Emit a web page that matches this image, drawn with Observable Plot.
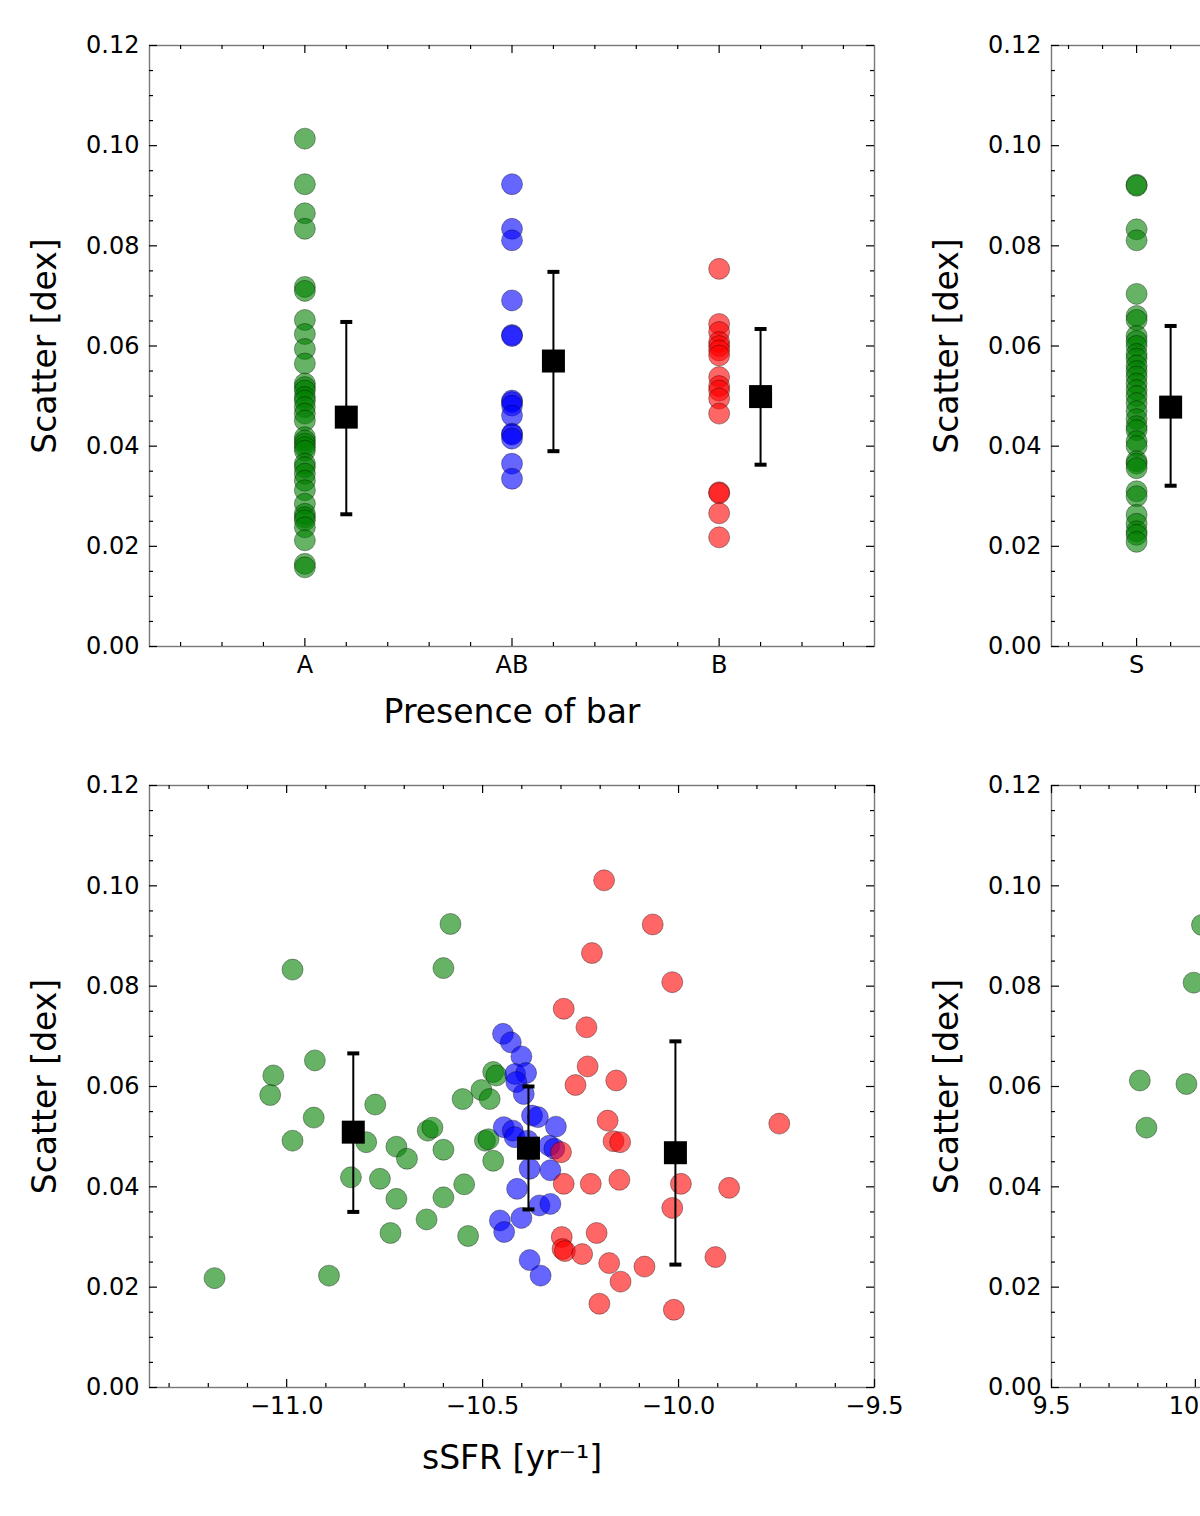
<!DOCTYPE html>
<html>
<head>
<meta charset="utf-8">
<script src="https://cdn.jsdelivr.net/npm/d3@7"></script>
<script src="https://cdn.jsdelivr.net/npm/@observablehq/plot@0.6"></script>
<style>
  body { margin: 0; background: white; }
  #fig { position: relative; width: 1200px; height: 1516px; overflow: hidden; background: white; }
  #fig > div { position: absolute; width: 902px; }
  #fig svg { max-width: none; }
</style>
</head>
<body>
<div id="fig">
  <div id="p1" style="left:0px;top:0px"></div>
  <div id="p2" style="left:900px;top:0px"></div>
  <div id="p3" style="left:0px;top:740px"></div>
  <div id="p4" style="left:900px;top:740px"></div>
</div>
<script>
// y axis shared by all four panels
const yTicks = [0, 0.02, 0.04, 0.06, 0.08, 0.10, 0.12];

// panel 1: presence of bar
const barCats = ["A", "AB", "B"];
const barA = [0.1014, 0.0923, 0.0865, 0.0834, 0.0718, 0.0710, 0.0652, 0.0624, 0.0594, 0.0565,
  0.0525, 0.0518, 0.0511, 0.0498, 0.0491, 0.0478, 0.0465, 0.0451, 0.0418, 0.0411, 0.0405,
  0.0398, 0.0391, 0.0365, 0.0358, 0.0345, 0.0331, 0.0312, 0.0285, 0.0265, 0.0258, 0.0252,
  0.0238, 0.0212, 0.0165, 0.0158];
const barAB = [0.0923, 0.0834, 0.0811, 0.0691, 0.0622, 0.0620, 0.0491, 0.0488, 0.0481, 0.0461,
  0.0425, 0.0423, 0.0415, 0.0365, 0.0335];
const barB = [0.0754, 0.0644, 0.0628, 0.0608, 0.0600, 0.0591, 0.0581, 0.0538, 0.0520, 0.0511,
  0.0495, 0.0465, 0.0308, 0.0306, 0.0266, 0.0218];
const barMean = [0.0458, 0.0570, 0.0499];
const barLo = [0.0264, 0.0390, 0.0363];
const barHi = [0.0648, 0.0748, 0.0634];

// panel 2: morphology (only S visible)
const morphCats = ["S"];
const morphS = [0.0922, 0.0920, 0.0833, 0.0811, 0.0704, 0.0660, 0.0652, 0.0620, 0.0610, 0.0600,
  0.0584, 0.0575, 0.0561, 0.0550, 0.0539, 0.0525, 0.0512, 0.0500, 0.0486, 0.0470, 0.0454,
  0.0440, 0.0432, 0.0410, 0.0400, 0.0370, 0.0365, 0.0356, 0.0310, 0.0300, 0.0263, 0.0245,
  0.0230, 0.0223, 0.0209];
const morphMean = [0.0478];
const morphLo = [0.0321];
const morphHi = [0.0640];

// panel 3: sSFR
const ssfrGreen = [[-11.184, 0.0218], [-10.985, 0.0833], [-10.582, 0.0924], [-10.600, 0.0836],
  [-10.928, 0.0652], [-11.034, 0.0622], [-11.042, 0.0583], [-10.931, 0.0538], [-10.985, 0.0492],
  [-10.774, 0.0564], [-10.797, 0.0489], [-10.836, 0.0419], [-10.762, 0.0416], [-10.720, 0.0480],
  [-10.693, 0.0456], [-10.720, 0.0376], [-10.735, 0.0308], [-10.643, 0.0335], [-10.600, 0.0379],
  [-10.547, 0.0405], [-10.537, 0.0302], [-10.892, 0.0223], [-10.640, 0.0512], [-10.628, 0.0518],
  [-10.600, 0.0474], [-10.551, 0.0575], [-10.503, 0.0593], [-10.482, 0.0575], [-10.473, 0.0629],
  [-10.465, 0.0622], [-10.494, 0.0492], [-10.485, 0.0495], [-10.473, 0.0452]];
const ssfrBlue = [[-10.448, 0.0705], [-10.428, 0.0688], [-10.401, 0.0660], [-10.417, 0.0625],
  [-10.389, 0.0627], [-10.414, 0.0609], [-10.395, 0.0585], [-10.374, 0.0542], [-10.359, 0.0539],
  [-10.313, 0.0520], [-10.446, 0.0519], [-10.423, 0.0512], [-10.418, 0.0499], [-10.385, 0.0492],
  [-10.330, 0.0482], [-10.317, 0.0476], [-10.380, 0.0436], [-10.327, 0.0433], [-10.412, 0.0396],
  [-10.355, 0.0363], [-10.327, 0.0366], [-10.456, 0.0333], [-10.445, 0.0310], [-10.401, 0.0338],
  [-10.380, 0.0254], [-10.352, 0.0223]];
const ssfrRed = [[-10.190, 0.1011], [-10.066, 0.0923], [-10.221, 0.0866], [-10.016, 0.0808],
  [-10.293, 0.0755], [-10.235, 0.0718], [-10.232, 0.0640], [-10.263, 0.0603], [-10.159, 0.0612],
  [-10.181, 0.0532], [-10.166, 0.0491], [-10.149, 0.0489], [-10.300, 0.0469], [-9.743, 0.0526],
  [-10.293, 0.0406], [-10.224, 0.0406], [-10.151, 0.0414], [-9.994, 0.0406], [-9.871, 0.0398],
  [-10.016, 0.0358], [-10.298, 0.0300], [-10.209, 0.0308], [-10.296, 0.0276], [-10.290, 0.0272],
  [-10.246, 0.0266], [-10.177, 0.0248], [-10.087, 0.0241], [-9.906, 0.0260], [-10.148, 0.0211],
  [-10.202, 0.0167], [-10.012, 0.0155]];
const ssfrErrX = [-10.830, -10.383, -10.008];
const ssfrMean = [0.0509, 0.0477, 0.0468];
const ssfrLo = [0.0350, 0.0355, 0.0245];
const ssfrHi = [0.0666, 0.0600, 0.0690];

// panel 4: stellar mass (left edge only)
const massGreen = [[9.807, 0.0612], [9.830, 0.0518], [9.969, 0.0605], [9.994, 0.0807], [10.023, 0.0922]];
const massLabels = [9.5, 10.0];

const colors = {g: "#008000", b: "#0000ff", r: "#ff0000"};
const squareSym = {draw(ctx) { ctx.rect(-11.5, -11.5, 23, 23); }};
const capSym = {draw(ctx) { ctx.rect(-6, -2, 12, 4); }};

function dots(data, color) {
  return Plot.dot(data, {x: "x", y: "y", r: 10.5, fill: color, fillOpacity: 0.6,
    stroke: "black", strokeOpacity: 0.35, strokeWidth: 1});
}

function errBars(data) {
  return [
    Plot.ruleX(data, {x: "x", y1: "lo", y2: "hi", stroke: "black", strokeWidth: 2}),
    Plot.dot(data, {x: "x", y: "lo", symbol: capSym, fill: "black"}),
    Plot.dot(data, {x: "x", y: "hi", symbol: capSym, fill: "black"}),
    Plot.dot(data, {x: "x", y: "m", symbol: squareSym, fill: "black"})
  ];
}

function panel(el, o) {
  const ML = o.ml, MT = 45, FW = 725, FH = o.fh, MR = 902 - ML - FW, MB = 100;
  const W = ML + FW + MR, H = MT + FH + MB;
  const yMinor = d3.range(0, 0.1201, 0.005).filter(v => !yTicks.some(t => Math.abs(t - v) < 1e-9));
  const xMinor = o.xMinor.filter(v => !o.xMajor.some(t => Math.abs(t - v) < 1e-9));
  const tick = {stroke: "black", strokeWidth: 1.2};
  const chart = Plot.plot({
    width: W, height: H,
    marginLeft: ML, marginRight: MR, marginTop: MT, marginBottom: MB,
    style: {fontFamily: "DejaVu Sans", color: "black", background: "transparent", overflow: "visible", maxWidth: "none"},
    x: {domain: o.xDomain},
    y: {domain: [0, 0.12]},
    marks: [
      ...o.marks,
      Plot.frame({stroke: "#777", strokeWidth: 1.4}),
      // inward ticks on all four sides
      Plot.tickY(yTicks, {y: d => d, insetRight: FW - 8, ...tick}),
      Plot.tickY(yTicks, {y: d => d, insetLeft: FW - 8, ...tick}),
      Plot.tickY(yMinor, {y: d => d, insetRight: FW - 4, ...tick}),
      Plot.tickY(yMinor, {y: d => d, insetLeft: FW - 4, ...tick}),
      Plot.tickX(o.xMajor, {x: d => d, insetTop: FH - 8, ...tick}),
      Plot.tickX(o.xMajor, {x: d => d, insetBottom: FH - 8, ...tick}),
      Plot.tickX(xMinor, {x: d => d, insetTop: FH - 4, ...tick}),
      Plot.tickX(xMinor, {x: d => d, insetBottom: FH - 4, ...tick}),
      Plot.axisY(yTicks, {tickSize: 0, tickPadding: 10, fontSize: 24, tickFormat: d => d.toFixed(2), label: null}),
      Plot.axisX(o.xLabels ?? o.xMajor, {tickSize: 0, tickPadding: 9, fontSize: 24, tickFormat: o.xFormat, label: null}),
      Plot.text(["Scatter [dex]"], {frameAnchor: "left", dx: -104, rotate: -90, fontSize: 33,
        lineAnchor: "middle", textAnchor: "middle"}),
      o.xLabel ? Plot.text([o.xLabel], {frameAnchor: "bottom", dy: o.xLabelDy, fontSize: 33,
        lineAnchor: "middle", textAnchor: "middle"}) : null
    ]
  });
  document.getElementById(el).append(chart);
}

const catRows = (vals, pos, color) => vals.map(v => ({x: pos, y: v, c: color}));
const errRows = (xs, m, lo, hi) => m.map((v, i) => ({x: xs[i], m: v, lo: lo[i], hi: hi[i]}));
const pairRows = arr => arr.map(([x, y]) => ({x, y}));

// top left
panel("p1", {
  ml: 149, fh: 601,
  xDomain: [0.25, 3.75],
  xMajor: [1, 2, 3],
  xMinor: d3.range(0.4, 3.7, 0.2).map(v => +v.toFixed(1)),
  xFormat: d => barCats[d - 1],
  xLabel: "Presence of bar", xLabelDy: 66,
  marks: [
    dots(catRows(barA, 1), colors.g),
    dots(catRows(barAB, 2), colors.b),
    dots(catRows(barB, 3), colors.r),
    ...errBars(errRows([1.2, 2.2, 3.2], barMean, barLo, barHi))
  ]
});

// top right (cut by the window edge)
panel("p2", {
  ml: 151, fh: 601,
  xDomain: [0.5, 4.76],
  xMajor: [1, 2, 3, 4],
  xLabels: [1],
  xMinor: d3.range(0.6, 4.7, 0.2).map(v => +v.toFixed(1)),
  xFormat: d => morphCats[d - 1] ?? "",
  xLabel: null,
  marks: [
    dots(catRows(morphS, 1), colors.g),
    ...errBars(errRows([1.2], morphMean, morphLo, morphHi))
  ]
});

// bottom left
panel("p3", {
  ml: 149, fh: 602,
  xDomain: [-11.35, -9.5],
  xMajor: [-11.0, -10.5, -10.0, -9.5],
  xMinor: d3.range(-11.3, -9.45, 0.1).map(v => +v.toFixed(1)),
  xFormat: d => (d < 0 ? "\u2212" : "") + Math.abs(d).toFixed(1),
  xLabel: "sSFR [yr\u207B\u00B9]", xLabelDy: 71,
  marks: [
    dots(pairRows(ssfrGreen), colors.g),
    dots(pairRows(ssfrBlue), colors.b),
    dots(pairRows(ssfrRed), colors.r),
    ...errBars(errRows(ssfrErrX, ssfrMean, ssfrLo, ssfrHi))
  ]
});

// bottom right (cut by the window edge)
panel("p4", {
  ml: 151, fh: 602,
  xDomain: [9.5, 12.02],
  xMajor: [9.5, 10.0, 10.5, 11.0, 11.5, 12.0],
  xLabels: massLabels,
  xMinor: d3.range(9.6, 12.01, 0.1).map(v => +v.toFixed(1)),
  xFormat: d => d.toFixed(1),
  xLabel: null,
  marks: [
    dots(pairRows(massGreen), colors.g)
  ]
});
</script>
</body>
</html>
